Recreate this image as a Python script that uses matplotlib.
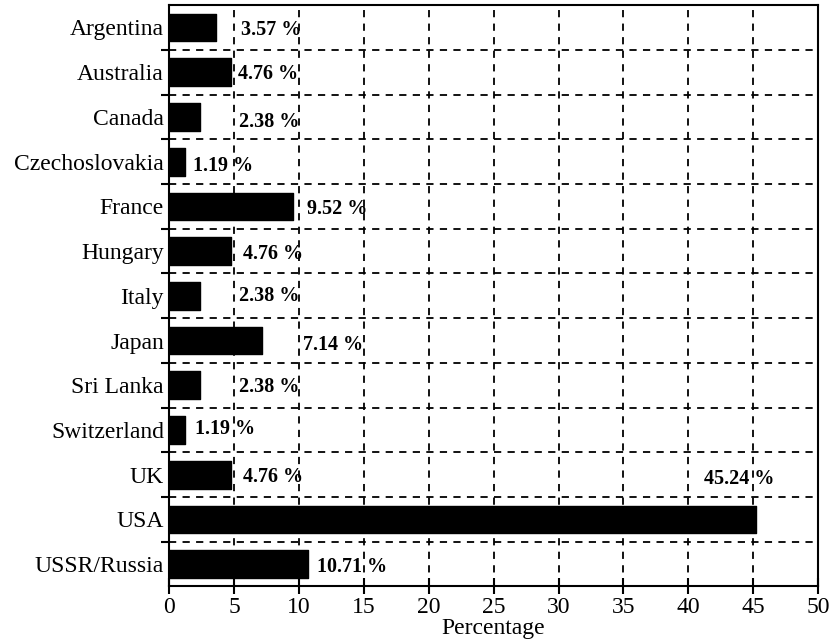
import matplotlib
matplotlib.use("Agg")
import matplotlib.pyplot as plt
import numpy as np

countries = ["Argentina", "Australia", "Canada", "Czechoslovakia", "France",
             "Hungary", "Italy", "Japan", "Sri Lanka", "Switzerland", "UK",
             "USA", "USSR/Russia"]
percent = [3.57, 4.76, 2.38, 1.19, 9.52, 4.76, 2.38, 7.14, 2.38, 1.19, 4.76,
           45.24, 10.71]

# where each value label starts (x in data units) and its shift in rows
label_x = [5.5, 5.25, 5.35, 1.8, 10.6, 5.65, 5.35, 10.3, 5.35, 1.95, 5.65,
           41.25, 11.35]
label_dy = [0.05, 0.05, 0.11, 0.09, 0.07, 0.06, 0.0, 0.09, 0.05, -0.02, 0.06,
            -0.9, 0.06]

plt.rcParams["font.family"] = ["Liberation Serif", "DejaVu Serif"]

fig = plt.figure(figsize=(8.32, 6.4), dpi=100)
ax = fig.add_axes([0.2037, 0.0836, 0.983 - 0.2037, 0.992 - 0.0836])

y = np.arange(len(countries))
ax.barh(y, percent, height=0.62, color="black", edgecolor="black",
        linewidth=1.0, joinstyle="round", zorder=3)

for yi, v, lx, dy in zip(y, percent, label_x, label_dy):
    ax.text(lx, yi + dy, f"{v:.2f} %", ha="left", va="center",
            fontsize=14.5, fontweight="bold", zorder=4)

ax.set_xlim(0, 50)
ax.set_ylim(len(countries) - 0.5, -0.5)
ax.set_xticks(np.arange(0, 51, 5))
ax.set_yticks(y)
ax.set_yticklabels(countries)
ax.set_yticks(np.arange(len(countries) - 1) + 0.5, minor=True)

ax.tick_params(axis="x", direction="inout", length=11, width=1.5,
               labelsize=17, pad=2)
ax.tick_params(axis="y", which="major", length=0, labelsize=17, pad=4)
ax.tick_params(axis="y", which="minor", direction="out", length=6, width=1.5)

ax.grid(True, axis="x", which="major", color="black", linestyle=(0, (4, 3.5)),
        linewidth=1.3, zorder=1)
ax.grid(True, axis="y", which="minor", color="black", linestyle=(0, (4, 3.5)),
        linewidth=1.3, zorder=1)

for s in ax.spines.values():
    s.set_linewidth(1.5)
    s.set_zorder(5)

ax.set_xlabel("Percentage", fontsize=17, labelpad=0)

fig.savefig("out.png", dpi=100)
